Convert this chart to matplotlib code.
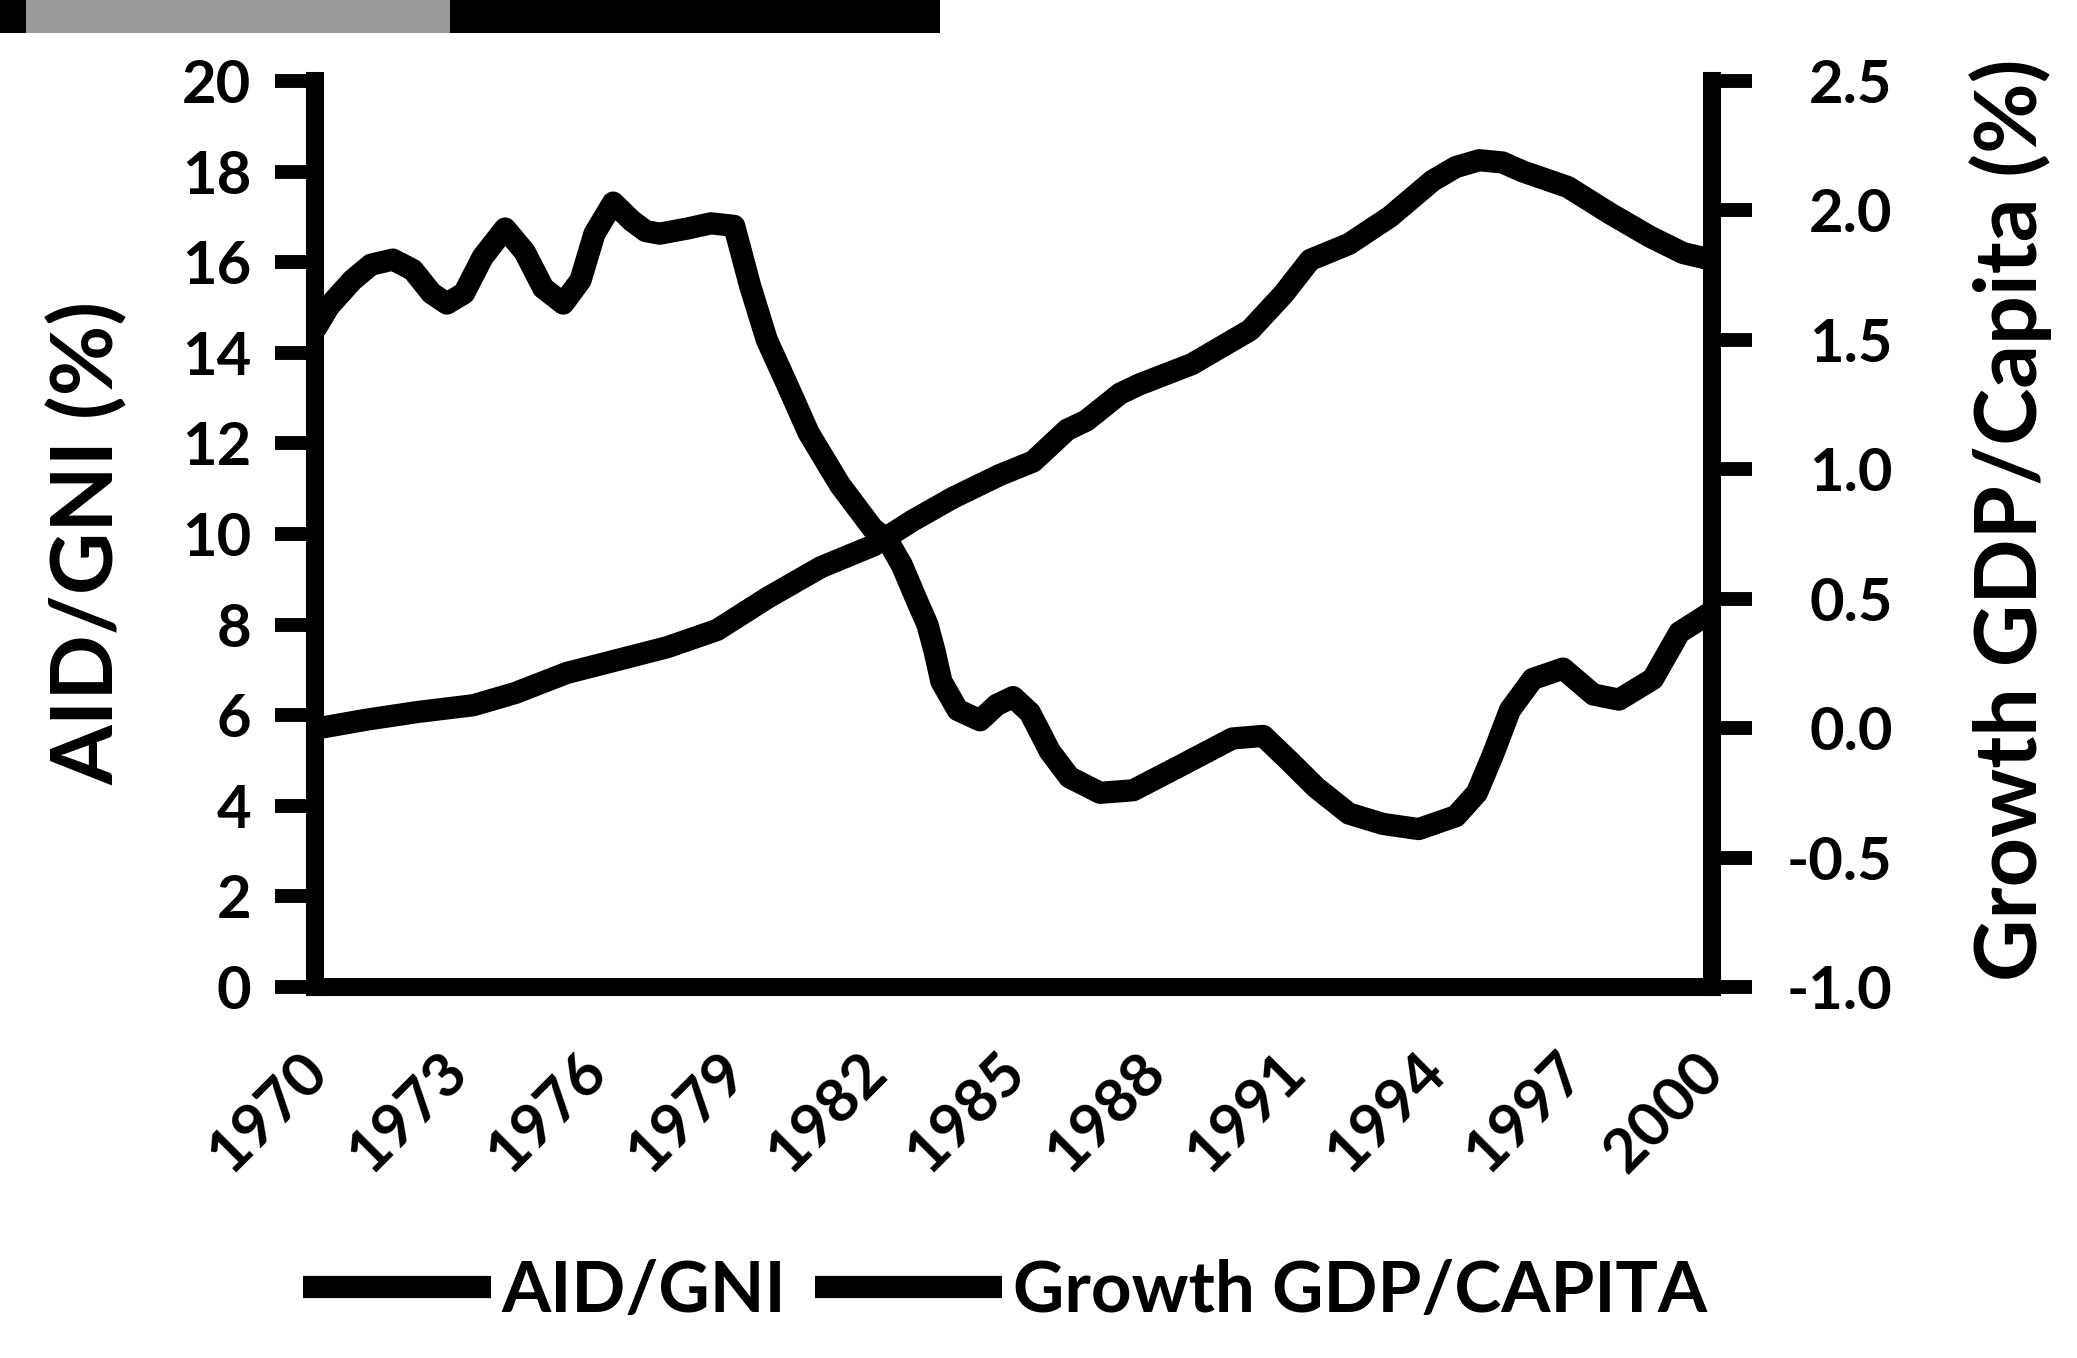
import numpy as np
import matplotlib
matplotlib.use("Agg")
import matplotlib.pyplot as plt
from matplotlib.patches import Rectangle
from matplotlib.transforms import ScaledTranslation

plt.rcParams['font.family'] = ['Lato', 'DejaVu Sans']
plt.rcParams['font.weight'] = 'bold'

# points (x = year, y = value)
aid_years = 1970 + np.array([0, 1.1, 2.2, 3.4, 4.3, 5.4, 6.5, 7.56, 8.63, 9.73, 10.87, 12.0,
                             12.84, 13.7, 14.7, 15.42, 16.15, 16.56, 17.29, 17.7, 18.83, 20.08,
                             20.8, 21.37, 22.2, 23.08, 24.0, 24.5, 25.0, 25.5, 25.94, 26.9,
                             27.8, 28.67, 29.38, 30.0])
aid = [5.7, 5.9, 6.07, 6.22, 6.49, 6.93, 7.22, 7.5, 7.88, 8.6, 9.27, 9.75,
       10.3, 10.8, 11.3, 11.6, 12.3, 12.5, 13.1, 13.3, 13.75, 14.5,
       15.3, 16.05, 16.4, 17.0, 17.8, 18.1, 18.25, 18.2, 18.0, 17.66,
       17.08, 16.56, 16.2, 16.05]

growth_years = 1970 + np.array([0, 0.3, 0.8, 1.2, 1.67, 2.1, 2.5, 2.83, 3.2, 3.6, 4.08, 4.5,
                                4.9, 5.33, 5.7, 6.0, 6.4, 6.8, 7.1, 7.4, 8.0, 8.5, 9.0, 9.34,
                                9.7, 10.13, 10.6, 11.27, 11.98, 12.28, 12.6, 12.93, 13.15, 13.3, 13.45,
                                13.8, 14.28, 14.64, 14.99, 15.35, 15.78, 16.2, 16.86, 17.57, 18.64,
                                19.7, 20.36, 20.94, 21.5, 22.2, 22.93, 23.7, 24.5, 24.95, 25.3,
                                25.66, 26.15, 26.8, 27.45, 28.0, 28.73, 29.3, 30.0])
growth = [1.54, 1.63, 1.73, 1.79, 1.81, 1.77, 1.68, 1.64, 1.68, 1.82, 1.93, 1.84,
          1.70, 1.64, 1.73, 1.91, 2.03, 1.96, 1.92, 1.91, 1.93, 1.95, 1.94, 1.71,
          1.50, 1.33, 1.14, 0.94, 0.77, 0.73, 0.63, 0.49, 0.40, 0.30, 0.18,
          0.07, 0.03, 0.09, 0.12, 0.06, -0.09, -0.19, -0.25, -0.24, -0.14,
          -0.04, -0.03, -0.13, -0.23, -0.33, -0.37, -0.39, -0.34, -0.25, -0.10,
          0.07, 0.19, 0.23, 0.13, 0.11, 0.19, 0.37, 0.45]

left_ticks = [0, 2, 4, 6, 8, 10, 12, 14, 16, 18, 20]
right_ticks = [-1.0, -0.5, 0.0, 0.5, 1.0, 1.5, 2.0, 2.5]
right_labels = ['-1.0', '-0.5', '0.0', '0.5', '1.0', '1.5', '2.0', '2.5']
year_ticks = list(range(1970, 2001, 3))
series_names = ['AID/GNI', 'Growth GDP/CAPITA']

fig = plt.figure(figsize=(20.77, 13.58), dpi=100)
ax = fig.add_axes([0.1517, 0.2732, 0.6726, 0.6672])
ax2 = ax.twinx()

l1, = ax.plot(aid_years, aid, color='black', lw=16, solid_joinstyle='round', solid_capstyle='butt')
l2, = ax2.plot(growth_years, growth, color='black', lw=16, solid_joinstyle='round', solid_capstyle='butt')

ax.set_xlim(1970, 2000)
ax.set_ylim(0, 20)
ax2.set_ylim(-1.0, 2.5)

ax.set_yticks(left_ticks)
ax.set_xticks(year_ticks, labels=[str(y) for y in year_ticks], rotation=45, ha='right', va='top')
ax2.set_yticks(right_ticks, labels=right_labels, ha='right')

for s in ['top', 'right']:
    ax.spines[s].set_visible(False)
for s in ['top', 'left', 'bottom']:
    ax2.spines[s].set_visible(False)
ax.spines['left'].set_linewidth(13)
ax.spines['bottom'].set_linewidth(13)
ax2.spines['right'].set_linewidth(13)

ax.tick_params(axis='y', direction='out', length=29, width=10, pad=17, labelsize=43)
ax.tick_params(axis='x', length=0, pad=40, labelsize=44)
ax2.tick_params(axis='y', direction='out', length=29, width=10, pad=101, labelsize=43)

# nudge the slanted year labels right so they end at their tick
shift = ScaledTranslation(16 / 72, 0, fig.dpi_scale_trans)
for lab in ax.get_xticklabels():
    lab.set_transform(lab.get_transform() + shift)

fig.text(0.0424, 0.600, 'AID/GNI (%)', rotation=90, ha='center', va='center', fontsize=62)
fig.text(0.968, 0.617, 'Growth GDP/Capita (%)', rotation=90, ha='center', va='center', fontsize=62)

fig.legend([l1, l2], series_names, loc='center', bbox_to_anchor=(0.484, 0.049), ncol=2,
           frameon=False, fontsize=51, handlelength=2.65, handletextpad=0.15, columnspacing=0.4)

# scan bar along the top edge
fig.add_artist(Rectangle((0, 1 - 33 / 1358), 940 / 2077, 33 / 1358, transform=fig.transFigure,
                         color='black', lw=0))
fig.add_artist(Rectangle((26 / 2077, 1 - 33 / 1358), 424 / 2077, 33 / 1358, transform=fig.transFigure,
                         color='0.6', lw=0))

fig.savefig('out.png', dpi=100)
